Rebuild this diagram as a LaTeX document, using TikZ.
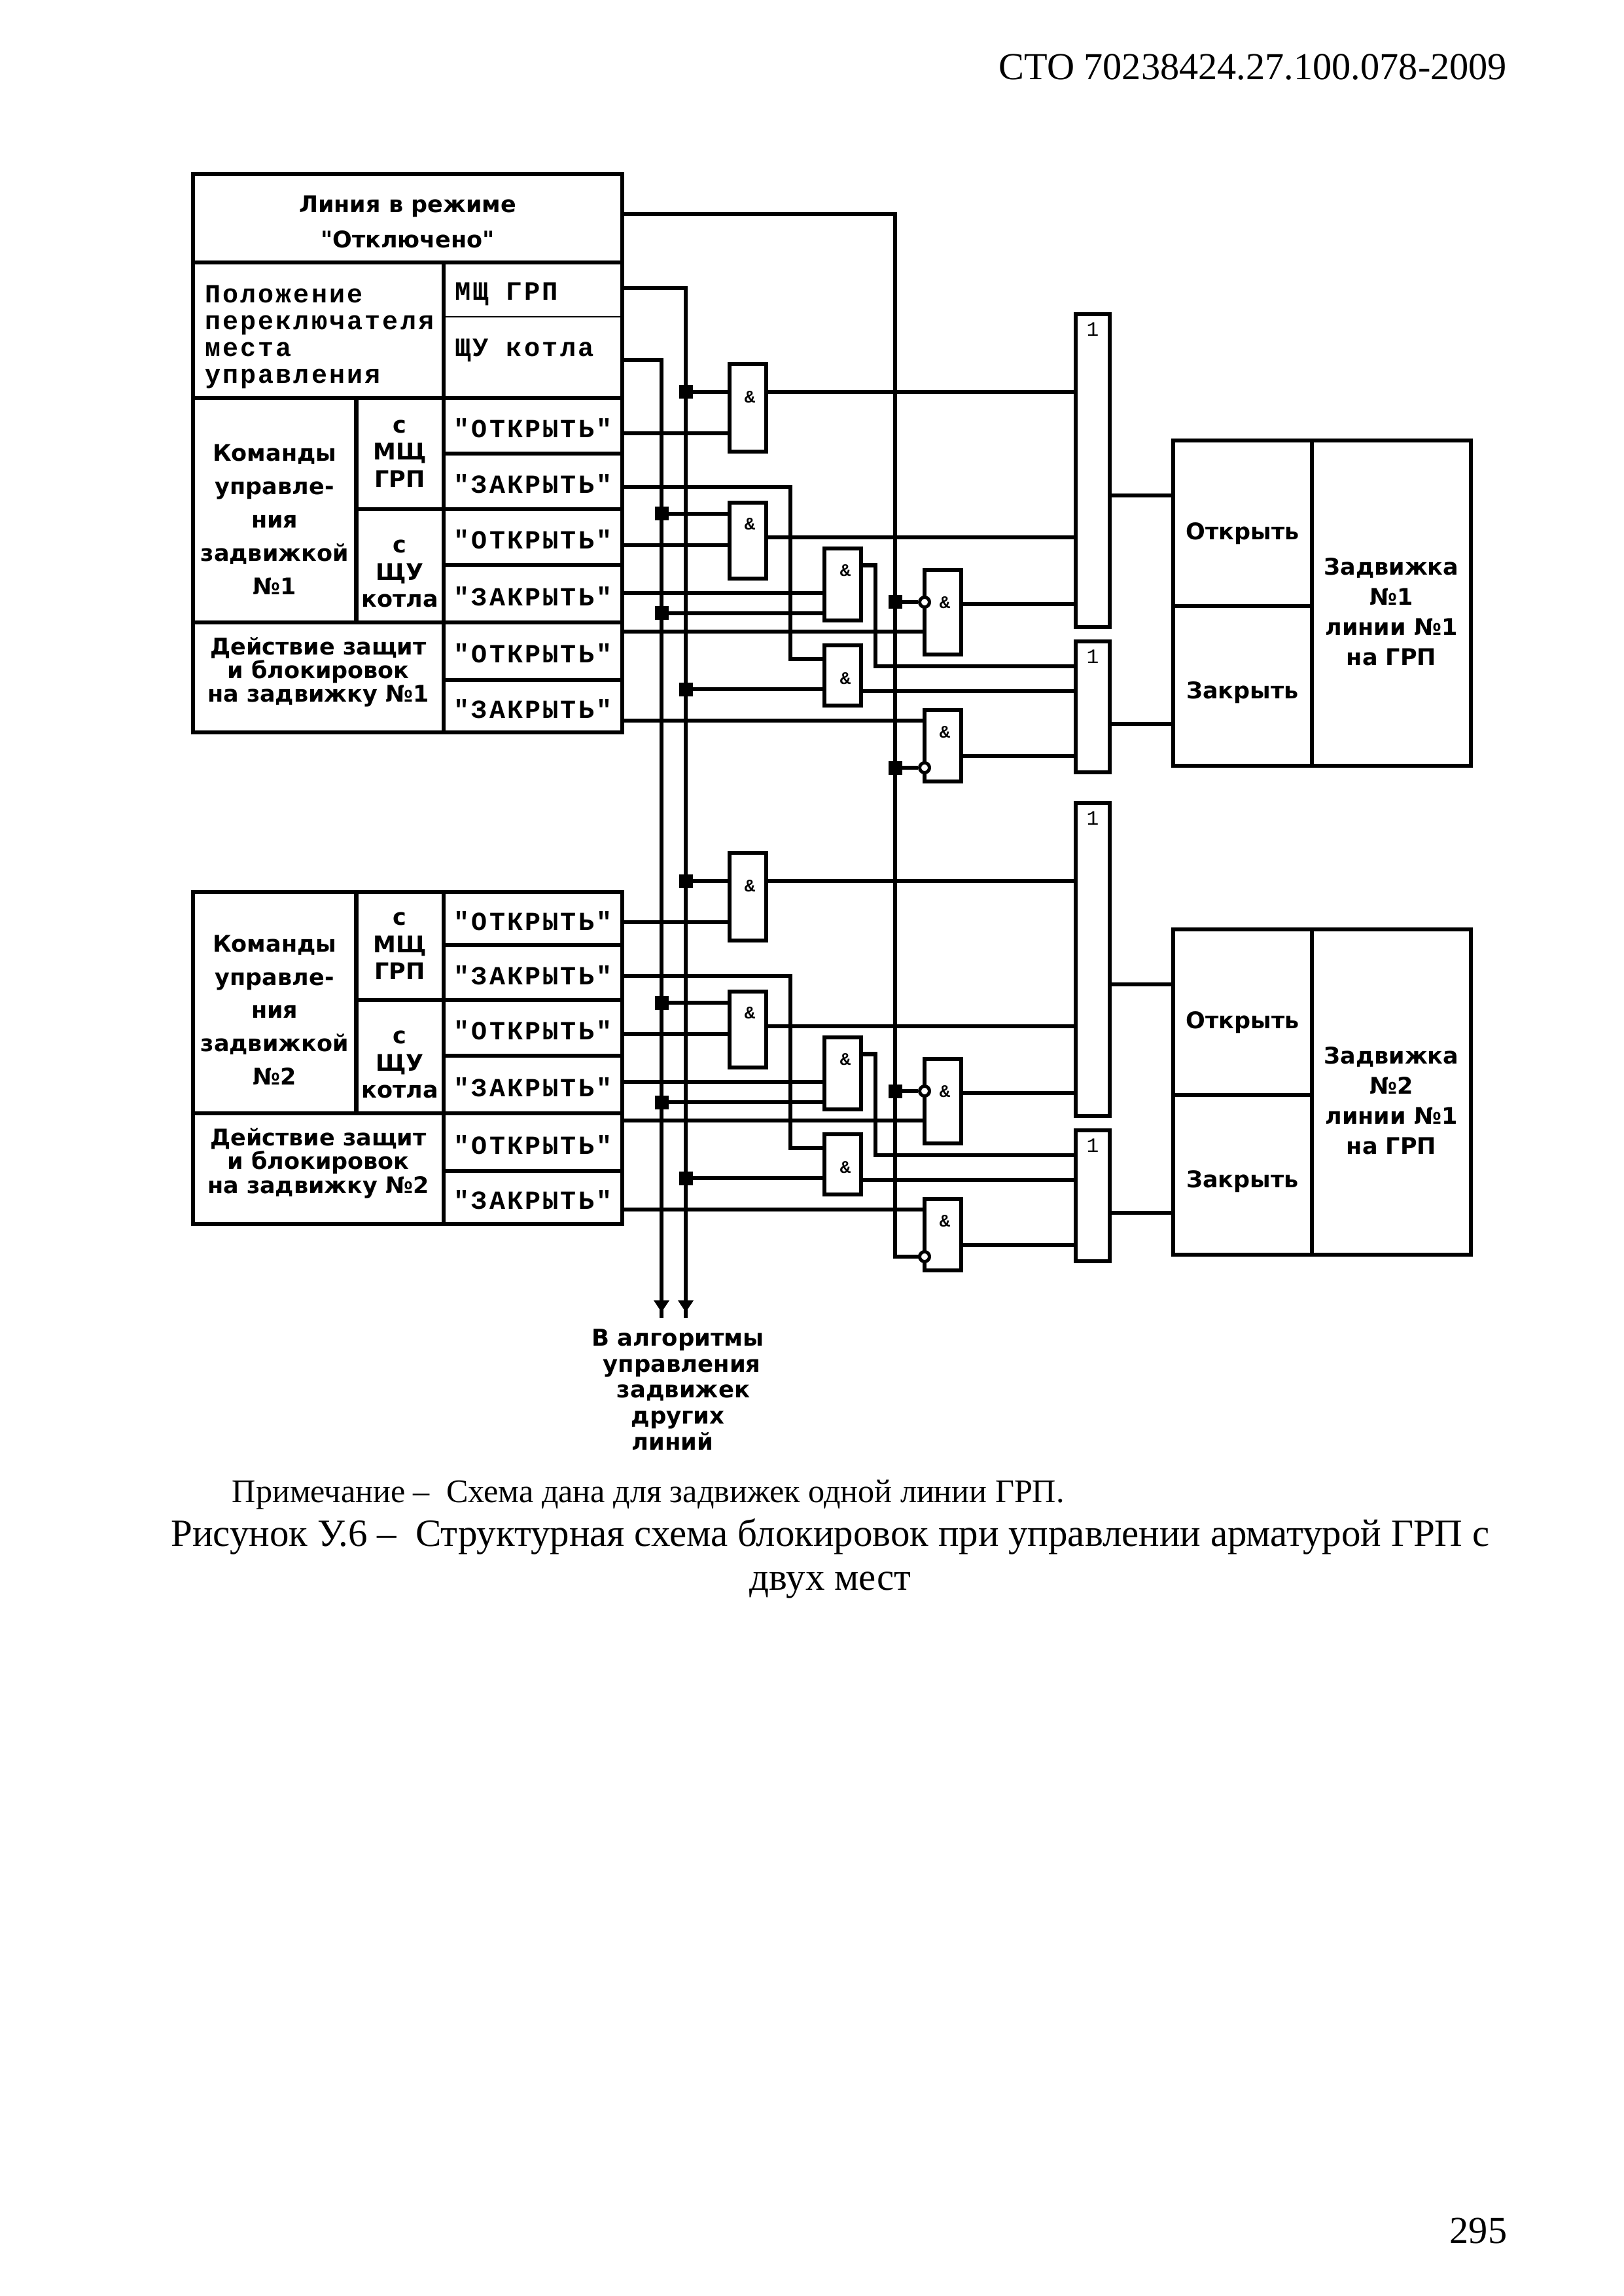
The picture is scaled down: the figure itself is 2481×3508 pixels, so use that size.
\documentclass[tikz,border=0pt]{standalone}
\usepackage{fontspec}
\setmainfont{Liberation Serif}
\newfontfamily\lblfont{DejaVu Sans}
\newfontfamily\btnfont[LetterSpace=8]{Liberation Mono}
\newfontfamily\plainfont{Liberation Mono}
\usetikzlibrary{positioning, arrows.meta, calc}

\def\px{0.24pt}
\tikzset{
  cell/.style={draw, line width=1.6pt, inner sep=0pt, align=center},
  sz/.style 2 args={minimum width=#1*\px, minimum height=#2*\px},
  lbl/.style={font=\lblfont\bfseries\fontsize{8.4}{12.2}\selectfont},
  lbltight/.style={font=\lblfont\bfseries\fontsize{8.4}{8.7}\selectfont},
  lblstack/.style={font=\lblfont\bfseries\fontsize{8.4}{10}\selectfont},
  btn/.style={font=\btnfont\bfseries\fontsize{9.6}{12}\selectfont, text height=36*\px, text depth=0pt},
  place/.style={font=\btnfont\bfseries\fontsize{9.7}{12}\selectfont},
  wire/.style={line width=1.45pt},
  gate/.style={draw, line width=1.6pt, inner sep=0pt, minimum width=56*\px},
  sign/.style={inner sep=0pt, font=\plainfont\bfseries\fontsize{6.5}{7}\selectfont},
  one/.style={inner sep=0pt, font=\plainfont\fontsize{7.5}{8}\selectfont},
  joint/.style={fill, inner sep=0pt, minimum size=21*\px},
  bubble/.style={circle, draw, fill=white, line width=1.2pt, inner sep=0pt, minimum size=15*\px},
  page/.style={inner sep=0pt, font=\fontsize{14}{16.2}\selectfont, align=center}
}

\begin{document}
\begin{tikzpicture}[x=0.24pt, y=-0.24pt]
  \useasboundingbox (0,0) rectangle (2481,3508);

  % Page texts
  \node[page, anchor=base east] (stdno) at (2304,122) {СТО 70238424.27.100.078-2009};
  \node[page, anchor=base east] (pageno) at (2304,3427) {295};
  \node[page, anchor=base west, font=\fontsize{12.05}{14}\selectfont] (note) at (354,2295) {Примечание –\ \ Схема дана для задвижек одной линии ГРП.};
  \node[page, font=\fontsize{14.15}{16.2}\selectfont] (caption) at (1269,2381) {Рисунок У.6 –\ \ Структурная схема блокировок при управлении арматурой ГРП с\\двух мест};

  % Upper part of the first table
  \node[cell, sz={656}{135}, font=\lblfont\bfseries\fontsize{8.4}{13}\selectfont, text height=91*\px] (mode) at (623,333.5) {Линия в режиме\\"Отключено"};
  \node[cell, sz={383}{207}, align=left, text width=347*\px, text height=48*\px, font=\btnfont\bfseries\fontsize{9.6}{9.84}\selectfont] (selector) at (486.5,504.5) {Положение\\переключателя\\места\\управления};
  \node[cell, sz={273}{83}, line width=0.7pt, align=left, text width=239*\px, place, text height=32*\px, text depth=0pt] (msc) at (814.5,442.5) {МЩ~~ГРП};
  \node[cell, sz={273}{124}, line width=0.7pt, align=left, text width=239*\px, place, text depth=30*\px] (shu) at (814.5,546) {ЩУ~~котла};
  \node[cell, sz={273}{207}] (placebox) at (814.5,504.5) {};

  % Command cells of both tables
  \foreach \k/\ya/\yb/\yc/\yd/\up in {1/608/778/951/1119/257, 2/1363/1528/1701/1870/251} {
    \node[cell, lbl, minimum width=249.5*\px, minimum height={(\yc-\ya)*\px}, text height=\up*\px] (cmd-\k) at (419.75,{(\ya+\yc)/2}) {Команды\\управле-\\ния\\задвижкой\\№\k};
    \node[cell, lblstack, minimum width=133.5*\px, minimum height={(\yb-\ya)*\px}] (fromm-\k) at (611.25,{(\ya+\yb)/2}) {с\\МЩ\\ГРП};
    \node[cell, lblstack, minimum width=133.5*\px, minimum height={(\yc-\yb)*\px}, text height=127*\px] (froms-\k) at (611.25,{(\yb+\yc)/2}) {с\\ЩУ\\котла};
    \node[cell, lbltight, minimum width=383*\px, minimum height={(\yd-\yc)*\px}, text depth=24*\px] (prot-\k) at (486.5,{(\yc+\yd)/2}) {Действие защит\\и блокировок\\на задвижку №\k};
  }

  % Command rows
  \foreach \n/\y/\h/\t in {r1-1/650.5/85/"ОТКРЫТЬ", r2-1/735.5/85/"ЗАКРЫТЬ", r3-1/820.5/85/"ОТКРЫТЬ", r4-1/907/88/"ЗАКРЫТЬ", r5-1/995/88/"ОТКРЫТЬ", r6-1/1079/80/"ЗАКРЫТЬ",
                           r1-2/1403.5/81/"ОТКРЫТЬ", r2-2/1486/84/"ЗАКРЫТЬ", r3-2/1570.5/85/"ОТКРЫТЬ", r4-2/1657/88/"ЗАКРЫТЬ", r5-2/1745/88/"ОТКРЫТЬ", r6-2/1829.5/81/"ЗАКРЫТЬ"}
    \node[cell, btn, sz={273}{\h}] (\n) at (814.5,\y) {\t};

  % Buses and the line from the mode cell
  \coordinate (busm) at (1048,2014);
  \coordinate (buss) at (1011,2014);
  \coordinate (tipm) at (1048,2005);
  \coordinate (tips) at (1011,2005);
  \draw[wire] (msc.east |- 0,440) -| (busm);
  \draw[wire] (shu.east |- 0,550) -| (buss);
  \draw[wire, -{Triangle[length=4.4pt, width=5.5pt]}] (1048,1987) -- (tipm);
  \draw[wire, -{Triangle[length=4.4pt, width=5.5pt]}] (1011,1987) -- (tips);
  \draw[wire] (mode.east |- 0,327) -| (1368,1920) -- (1413,1920);

  % Text under the buses
  \node[lbl, font=\lblfont\bfseries\fontsize{8.5}{9.54}\selectfont, align=center, inner sep=0pt] (others) at (1036,2123) {В алгоритмы\\\hspace*{2.9pt}управления\\\hspace*{4pt}задвижек\\других\hspace*{4pt}\\линий\hspace*{4pt}};

  % Both groups of gates
  \foreach \k/\d in {1/0, 2/747} {
    \begin{scope}[shift={(0,\d)}]
      % Draw the gates
      \foreach \n/\x/\t/\b/\sx/\sy in {and1/1143/556/690/1146/607, and2/1143/768/884/1146/801, and3/1288/838/948/1292/872,
                                       and4/1288/986/1078/1292/1037, and5/1441/871/1000/1444/921, and6/1441/1085/1194/1444/1119} {
        \node[gate, minimum height={(\b-\t)*\px}] (\n-\k) at (\x,{(\t+\b)/2}) {};
        \node[sign] (\n s-\k) at (\sx,\sy) {\&};
      }
      \foreach \n/\t/\b/\sy in {or1/480/958/503, or2/980/1180/1003} {
        \node[gate, minimum width=52*\px, minimum height={(\b-\t)*\px}] (\n-\k) at (1670,{(\t+\b)/2}) {};
        \node[one] (\n s-\k) at (1670,\sy) {1};
      }

      % Draw the valve box
      \node[cell, sz={212}{253}, lbl, text height=58*\px] (open-\k) at (1899,799.5) {Открыть};
      \node[cell, sz={212}{244}, lbl, text height=46*\px] (close-\k) at (1899,1048) {Закрыть};
      \node[cell, sz={243}{497}, lbl, font=\lblfont\bfseries\fontsize{8.4}{11}\selectfont, text height=190*\px] (valve-\k) at (2126.5,921.5) {Задвижка\\№\k\\линии №1\\на ГРП};

      % Draw the junctions
      \node[joint] (j1-\k) at (1048,599) {};
      \node[joint] (j2-\k) at (1011,785) {};
      \node[joint] (j3-\k) at (1011,937) {};
      \node[joint] (j4-\k) at (1048,1053) {};
      \node[joint] (j5-\k) at (1368,920) {};
      \node[bubble] (b5-\k) at (1413,920) {};
      \node[bubble] (b6-\k) at (1413,1173) {};

      % Inputs from the tables
      \foreach \r/\g/\y in {r1/and1/662, r3/and2/833, r4/and3/906, r5/and5/965, r6/and6/1101}
        \draw[wire] (\r-\k.east |- 0,\y) -- (\g-\k.west |- 0,\y);
      \coordinate (c2-\k) at (1208,1007);
      \draw[wire] (r2-\k.east |- 0,744) -| (c2-\k) -- (and4-\k.west |- c2-\k);

      % Inputs from the buses
      \foreach \j/\g in {j1/and1, j2/and2, j3/and3, j4/and4}
        \draw[wire] (\j-\k) -- (\g-\k.west |- \j-\k);
      \draw[wire] (j5-\k) -- (b5-\k);

      % Outputs to the OR gates
      \foreach \g/\o/\y in {and1/or1/599, and2/or1/821, and5/or1/923, and4/or2/1056, and6/or2/1155}
        \draw[wire] (\g-\k.east |- 0,\y) -- (\o-\k.west |- 0,\y);
      \coordinate (c3-\k) at (1338,1018);
      \draw[wire] (and3-\k.east |- 0,863.5) -| (c3-\k) -- (or2-\k.west |- c3-\k);

      % Outputs to the valve box
      \draw[wire] (or1-\k.east |- 0,757) -- (open-\k.west |- 0,757);
      \draw[wire] (or2-\k.east |- 0,1106) -- (close-\k.west |- 0,1106);
    \end{scope}
  }

  % Last junction of the first group
  \node[joint] (j6-1) at (1368,1173) {};
  \draw[wire] (j6-1) -- (b6-1);
\end{tikzpicture}
\end{document}
